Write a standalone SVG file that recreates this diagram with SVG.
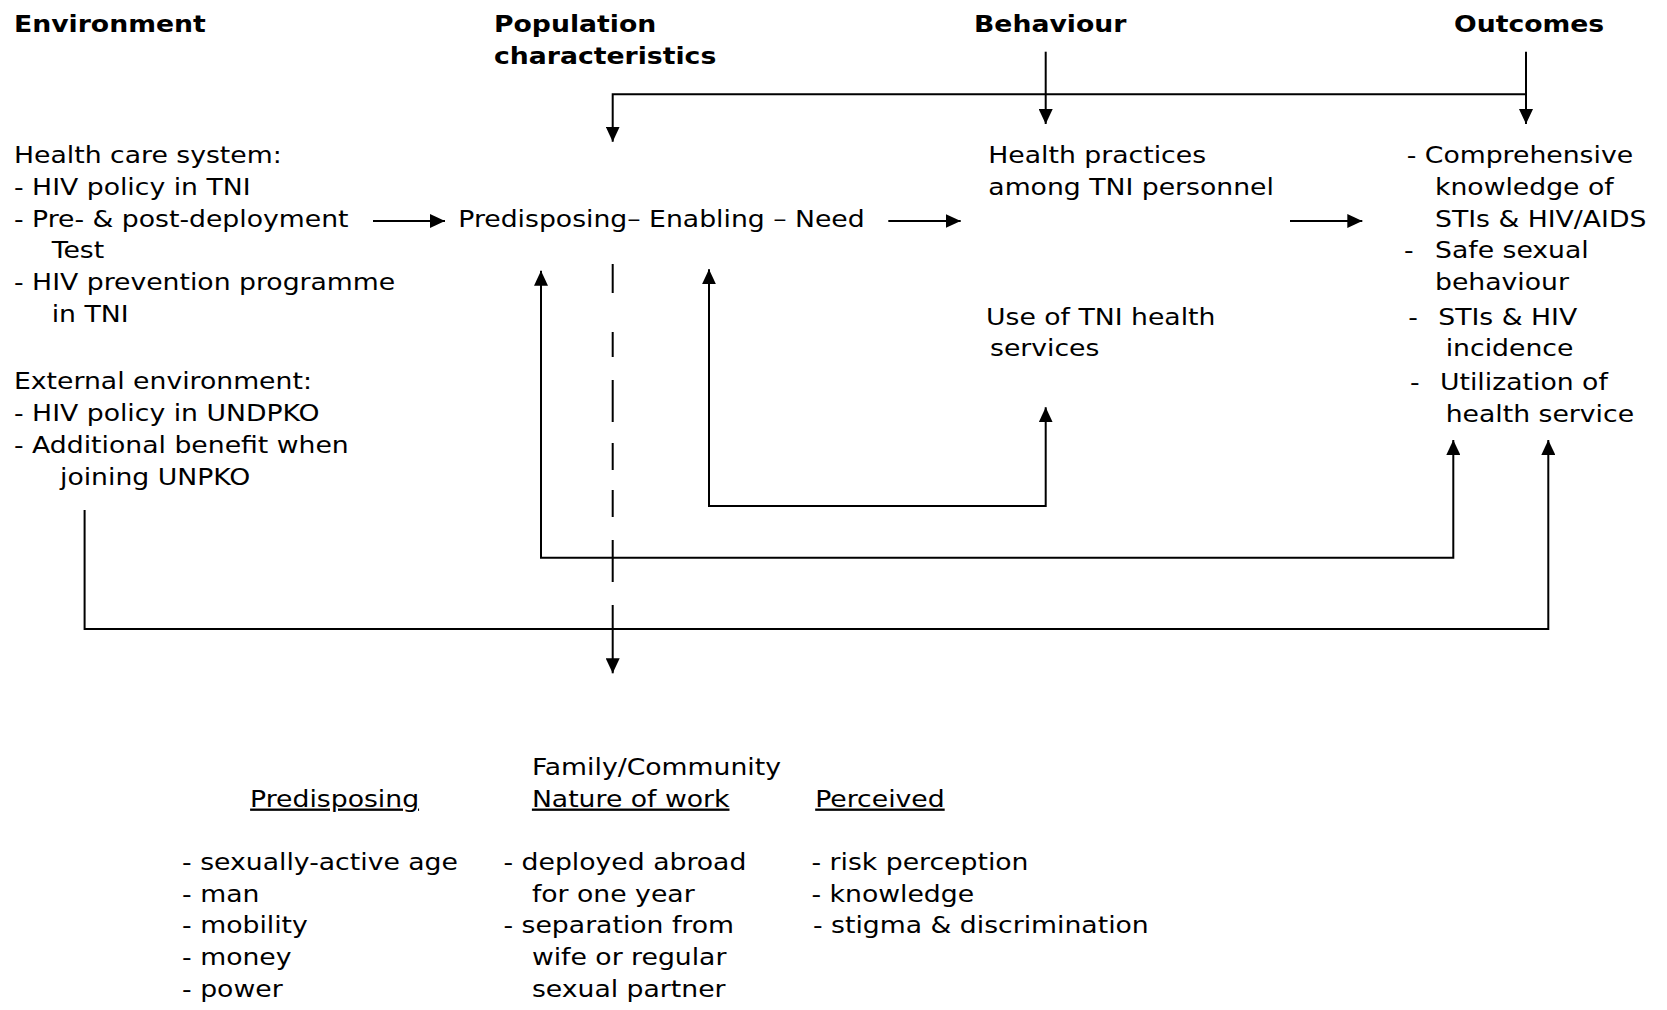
<svg xmlns="http://www.w3.org/2000/svg" width="1667" height="1010" viewBox="0 0 1667 1010">
<defs>
<style>
text{font-family:"DejaVu Sans",Verdana,"Liberation Sans",sans-serif;font-size:23px;fill:#000}
.h{font-weight:bold}
.u{text-decoration:underline}
.ln{fill:none;stroke:#000;stroke-width:2}
</style>
<marker id="ah" markerUnits="userSpaceOnUse" markerWidth="16" markerHeight="14" refX="15" refY="7" orient="auto-start-reverse">
<path d="M0,0 L15,7 L0,14 z" fill="#000"/>
</marker>
</defs>
<rect width="1667" height="1010" fill="#fff"/>
<g id="connectors">
<line class="ln" x1="373" y1="221" x2="445" y2="221" marker-end="url(#ah)"/>
<line class="ln" x1="888.3" y1="221" x2="960.7" y2="221" marker-end="url(#ah)"/>
<line class="ln" x1="1290" y1="221" x2="1362.3" y2="221" marker-end="url(#ah)"/>
<path class="ln" d="M1526,94.3 H612.7 V141.7" marker-end="url(#ah)"/>
<path class="ln" d="M1526,51.7 V124" marker-end="url(#ah)"/>
<path class="ln" d="M1045.7,51.7 V124" marker-end="url(#ah)"/>
<path class="ln" d="M541,270.7 V557.7 H1453.3 V440" marker-start="url(#ah)" marker-end="url(#ah)"/>
<path class="ln" d="M709,269.3 V506 H1045.7 V407.3" marker-start="url(#ah)" marker-end="url(#ah)"/>
<path class="ln" d="M84.6,510 V629 H1548.3 V440" marker-end="url(#ah)"/>
<path class="ln" d="M612.7,264 V293 M612.7,332 V357 M612.7,380 V422 M612.7,443 V470 M612.7,490 V517 M612.7,540 V582"/>
<path class="ln" d="M612.7,605 V673.3" marker-end="url(#ah)"/>
</g>
<g transform="scale(1.16,1)">
<g id="environment">
<text class="h" x="12.07" y="32.3">Environment</text>
<text x="12.07" y="163.3">Health care system:</text>
<text x="12.07" y="195">- HIV policy in TNI</text>
<text x="12.07" y="226.7">- Pre- &amp; post-deployment</text>
<text x="44.57" y="258.3">Test</text>
<text x="12.07" y="290">- HIV prevention programme</text>
<text x="44.57" y="321.7">in TNI</text>
<text x="12.07" y="389.3">External environment:</text>
<text x="12.07" y="421">- HIV policy in UNDPKO</text>
<text x="12.07" y="453.3">- Additional benefit when</text>
<text x="51.72" y="485">joining UNPKO</text>
</g>
<g id="population">
<text class="h" x="425.86" y="32.3">Population</text>
<text class="h" x="425.86" y="64">characteristics</text>
<text x="395.09" y="226.7">Predisposing– Enabling – Need</text>
</g>
<g id="behaviour">
<text class="h" x="839.66" y="32.3">Behaviour</text>
<text x="852" y="163.3">Health practices</text>
<text x="852" y="195">among TNI personnel</text>
<text x="850" y="325">Use of TNI health</text>
<text x="853.45" y="356">services</text>
</g>
<g id="outcomes">
<text class="h" x="1253.45" y="32.3">Outcomes</text>
<text x="1212.67" y="163.3">- Comprehensive</text>
<text x="1237.07" y="195">knowledge of</text>
<text x="1237.07" y="226.7">STIs &amp; HIV/AIDS</text>
<text y="258.3"><tspan x="1210.34">-</tspan><tspan x="1237.07">Safe sexual</tspan></text>
<text x="1237.07" y="290">behaviour</text>
<text y="325"><tspan x="1214.05">-</tspan><tspan x="1239.91">STIs &amp; HIV</tspan></text>
<text x="1246.29" y="356">incidence</text>
<text y="390"><tspan x="1215.52">-</tspan><tspan x="1241.38">Utilization of</tspan></text>
<text x="1246.29" y="421.7">health service</text>
</g>
<g id="predisposing-factors">
<text class="u" x="215.6" y="806.7">Predisposing</text>
<text x="156.98" y="870">- sexually-active age</text>
<text x="156.98" y="901.7">- man</text>
<text x="156.98" y="933.3">- mobility</text>
<text x="156.98" y="965">- money</text>
<text x="156.98" y="996.7">- power</text>
</g>
<g id="enabling-factors">
<text x="458.53" y="775">Family/Community</text>
<text class="u" x="458.53" y="806.7">Nature of work</text>
<text x="434.05" y="870">- deployed abroad</text>
<text x="458.53" y="901.7">for one year</text>
<text x="434.05" y="933.3">- separation from</text>
<text x="458.53" y="965">wife or regular</text>
<text x="458.53" y="996.7">sexual partner</text>
</g>
<g id="need-factors">
<text class="u" x="702.76" y="806.7">Perceived</text>
<text x="699.57" y="870">- risk perception</text>
<text x="699.57" y="901.7">- knowledge</text>
<text x="700.86" y="933.3">- stigma &amp; discrimination</text>
</g>
</g>
</svg>
